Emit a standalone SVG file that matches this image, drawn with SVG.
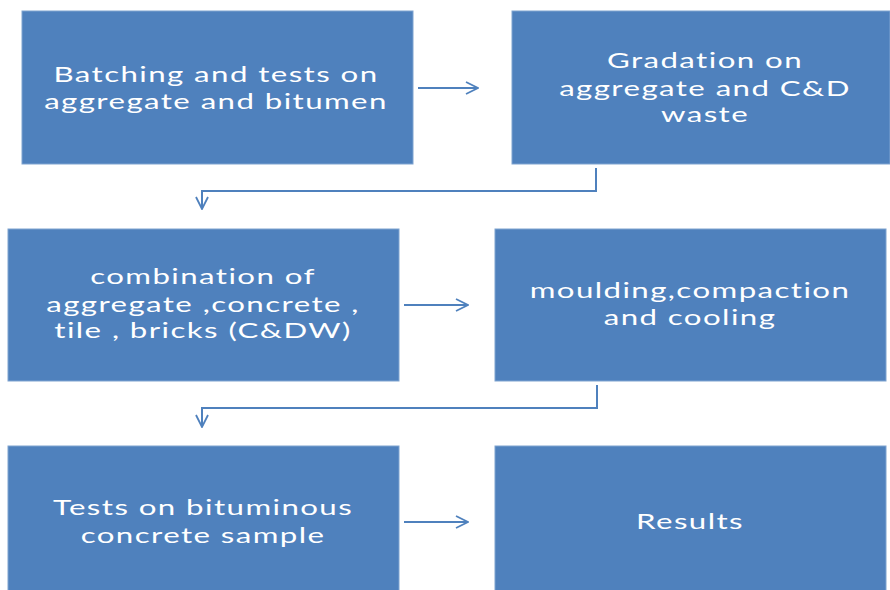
<svg xmlns="http://www.w3.org/2000/svg" width="890" height="590" viewBox="0 0 890 590">
<style>
.box{fill:#4F81BD;stroke:#7FA3D0;stroke-width:1}
.t{font-family:Lato,"Liberation Sans",sans-serif;font-size:22px;fill:#FFFFFF;text-anchor:middle;letter-spacing:1px}
.c{fill:none;stroke:#4F81BD;stroke-width:2}
</style>
<defs>
<marker id="ah" viewBox="0 0 14 14" refX="13" refY="7" markerWidth="14" markerHeight="14" markerUnits="userSpaceOnUse" orient="auto">
<path d="M1,1 L13,7 L1,13" fill="none" stroke="#4F81BD" stroke-width="1.8"/>
</marker>
</defs>
<rect width="890" height="590" fill="#FFFFFF"/>
<g id="n1"><rect class="box" x="22" y="11" width="391" height="153"/>
<g transform="translate(216,0) scale(1.42,1)">
<text class="t" x="0" y="82">Batching and tests on</text>
<text class="t" x="0" y="109">aggregate and bitumen</text></g></g>
<g id="n2"><rect class="box" x="512" y="11" width="378" height="153"/>
<g transform="translate(705,0) scale(1.42,1)">
<text class="t" x="0" y="68">Gradation on</text>
<text class="t" x="0" y="96">aggregate and C&amp;D</text>
<text class="t" x="0" y="122">waste</text></g></g>
<g id="n3"><rect class="box" x="8" y="229" width="391" height="152"/>
<g transform="translate(203,0) scale(1.42,1)">
<text class="t" x="0" y="284">combination of</text>
<text class="t" x="0" y="312">aggregate ,concrete ,</text>
<text class="t" x="0" y="338">tile , bricks (C&amp;DW)</text></g></g>
<g id="n4"><rect class="box" x="495" y="229" width="391" height="152"/>
<g transform="translate(690,0) scale(1.42,1)">
<text class="t" x="0" y="298">moulding,compaction</text>
<text class="t" x="0" y="325">and cooling</text></g></g>
<g id="n5"><rect class="box" x="8" y="446" width="391" height="150"/>
<g transform="translate(203,0) scale(1.42,1)">
<text class="t" x="0" y="515">Tests on bituminous</text>
<text class="t" x="0" y="543">concrete sample</text></g></g>
<g id="n6"><rect class="box" x="495" y="446" width="391" height="150"/>
<g transform="translate(690,0) scale(1.42,1)">
<text class="t" x="0" y="529">Results</text></g></g>
<g id="connectors">
<path class="c" d="M418,88 L478,88" marker-end="url(#ah)"/>
<path class="c" d="M596,168 L596,191 L202,191 L202,209" marker-end="url(#ah)"/>
<path class="c" d="M404,305 L468,305" marker-end="url(#ah)"/>
<path class="c" d="M597,385 L597,408 L202,408 L202,427" marker-end="url(#ah)"/>
<path class="c" d="M404,522 L468,522" marker-end="url(#ah)"/>
</g>
</svg>
